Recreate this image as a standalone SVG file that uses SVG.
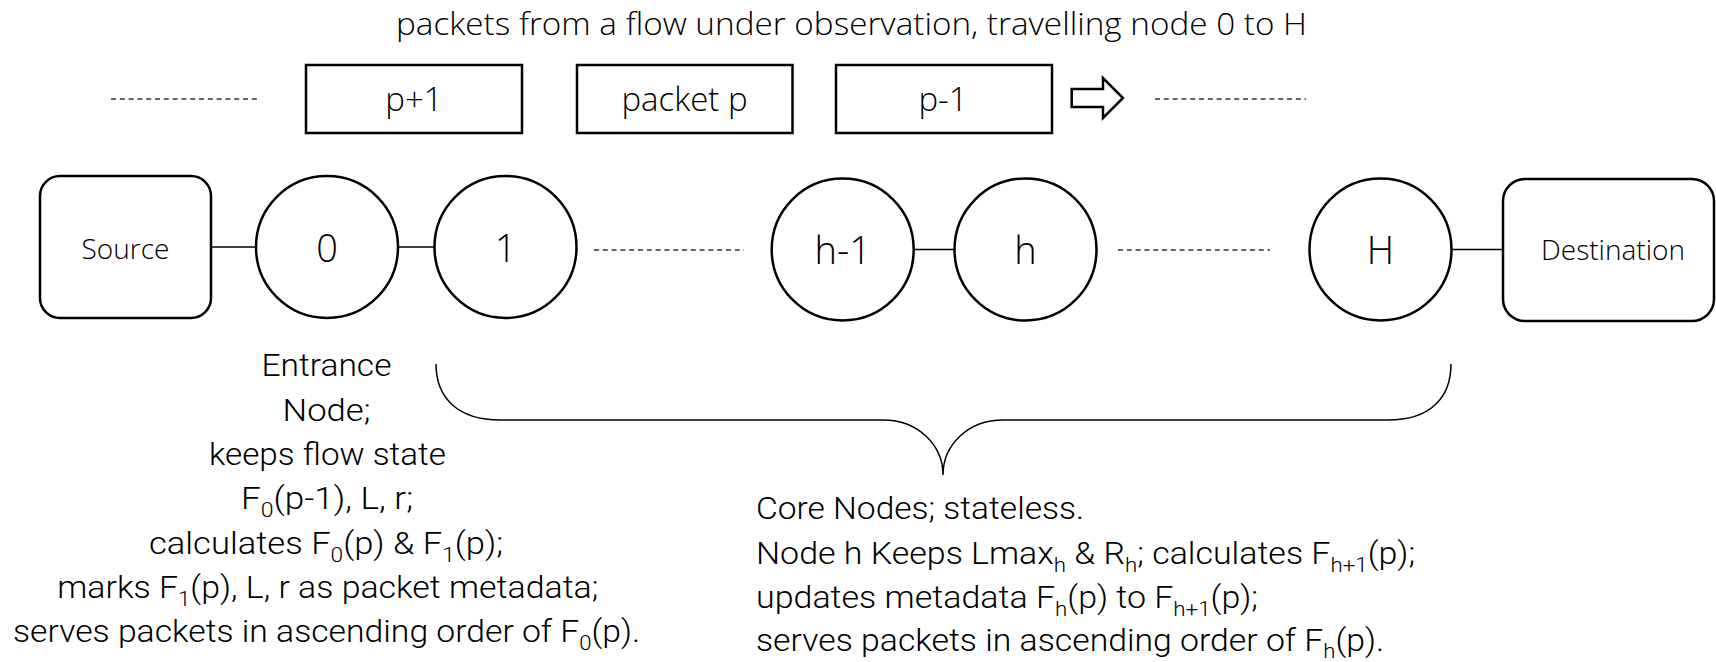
<svg xmlns="http://www.w3.org/2000/svg" width="1716" height="662" viewBox="0 0 1716 662">
<style>
  .box{fill:#fff;stroke:#000;stroke-width:2.5}
  .node{fill:#fff;stroke:#000;stroke-width:2.5}
  .link{stroke:#000;stroke-width:1.6;fill:none}
  .dash{stroke:#333;stroke-width:1.6;stroke-dasharray:5 3.8;fill:none}
  .brace{stroke:#000;stroke-width:1.5;fill:none}
  .t{font-family:"Open Sans","Noto Sans",sans-serif;font-weight:300;fill:#000}
  .b{font-family:Roboto,"Open Sans",sans-serif;font-weight:300;fill:#000;font-size:32px}
  .sub{font-size:21px}
</style>
<rect width="1716" height="662" fill="#fff"/>

<text class="t" x="851.5" y="35" font-size="31" text-anchor="middle" textLength="911" lengthAdjust="spacingAndGlyphs">packets from a flow under observation, travelling node 0 to H</text>

<g id="connectors">
  <line class="dash" x1="111" y1="99" x2="260" y2="99"/>
  <line class="dash" x1="1155" y1="99" x2="1306" y2="99"/>
  <line class="link" x1="211" y1="247" x2="256" y2="247"/>
  <line class="link" x1="398" y1="247" x2="434.5" y2="247"/>
  <line class="dash" x1="594" y1="250" x2="744" y2="250"/>
  <line class="link" x1="913.7" y1="249.5" x2="954.5" y2="249.5"/>
  <line class="dash" x1="1118" y1="250" x2="1270" y2="250"/>
  <line class="link" x1="1451.5" y1="249.5" x2="1503" y2="249.5"/>
  <path class="brace" d="M 436 364 C 436 398, 458 420, 500 420 L 883 420 C 918 420, 943 445, 943 475 C 943 445, 968 420, 1003 420 L 1388 420 C 1430 420, 1451 398, 1451 364"/>
  <path d="M 1071.7 89 L 1103 89 L 1103 78 L 1123 98 L 1103 118 L 1103 107 L 1071.7 107 Z" fill="#fff" stroke="#000" stroke-width="2.5" stroke-linejoin="miter"/>
</g>

<g id="packet-p1">
  <rect class="box" x="306" y="65" width="216" height="68"/>
  <text class="t" x="414" y="111" font-size="33" text-anchor="middle">p+1</text>
</g>
<g id="packet-p">
  <rect class="box" x="577" y="65" width="215.5" height="68"/>
  <text class="t" x="684.5" y="111" font-size="33" text-anchor="middle">packet p</text>
</g>
<g id="packet-pm1">
  <rect class="box" x="836" y="65" width="216" height="68"/>
  <text class="t" x="943" y="111" font-size="33" text-anchor="middle">p-1</text>
</g>

<g id="source">
  <rect class="box" x="40" y="176" width="171" height="142" rx="20"/>
  <text class="t" x="125.5" y="259" font-size="28" text-anchor="middle">Source</text>
</g>
<g id="node-0">
  <circle class="node" cx="327" cy="247" r="71"/>
  <text class="t" x="327" y="262" font-size="38" text-anchor="middle">0</text>
</g>
<g id="node-1">
  <circle class="node" cx="505.5" cy="247" r="71"/>
  <text class="t" x="505.5" y="262" font-size="38" text-anchor="middle">1</text>
</g>
<g id="node-hm1">
  <circle class="node" cx="842.7" cy="249.5" r="71"/>
  <text class="t" x="842.7" y="264" font-size="38" text-anchor="middle">h-1</text>
</g>
<g id="node-h">
  <circle class="node" cx="1025.5" cy="249.5" r="71"/>
  <text class="t" x="1025.5" y="264" font-size="38" text-anchor="middle">h</text>
</g>
<g id="node-H">
  <circle class="node" cx="1380.5" cy="249.5" r="71"/>
  <text class="t" x="1380.5" y="264" font-size="38" text-anchor="middle">H</text>
</g>
<g id="destination">
  <rect class="box" x="1503" y="179" width="211" height="142" rx="22"/>
  <text class="t" x="1613" y="260" font-size="28" text-anchor="middle">Destination</text>
</g>

<g id="entrance-label">
  <text class="b" x="326.5" y="376" text-anchor="middle" textLength="130" lengthAdjust="spacingAndGlyphs">Entrance</text>
  <text class="b" x="326.5" y="420.5" text-anchor="middle" textLength="88" lengthAdjust="spacingAndGlyphs">Node;</text>
  <text class="b" x="327.5" y="465" text-anchor="middle" textLength="237" lengthAdjust="spacingAndGlyphs">keeps flow state</text>
  <text class="b" x="327" y="509" text-anchor="middle" textLength="172" lengthAdjust="spacingAndGlyphs">F<tspan class="sub" dy="8">0</tspan><tspan dy="-8">(p-1), L, r;</tspan></text>
  <text class="b" x="326" y="553.5" text-anchor="middle" textLength="354" lengthAdjust="spacingAndGlyphs">calculates F<tspan class="sub" dy="8">0</tspan><tspan dy="-8">(p) &amp; F</tspan><tspan class="sub" dy="8">1</tspan><tspan dy="-8">(p);</tspan></text>
  <text class="b" x="327.8" y="598" text-anchor="middle" textLength="541" lengthAdjust="spacingAndGlyphs">marks F<tspan class="sub" dy="8">1</tspan><tspan dy="-8">(p), L, r as packet metadata;</tspan></text>
  <text class="b" x="326.5" y="642" text-anchor="middle" textLength="627" lengthAdjust="spacingAndGlyphs">serves packets in ascending order of F<tspan class="sub" dy="8">0</tspan><tspan dy="-8">(p).</tspan></text>
</g>

<g id="core-label">
  <text class="b" x="756" y="519" textLength="328" lengthAdjust="spacingAndGlyphs">Core Nodes; stateless.</text>
  <text class="b" x="756" y="563.5" textLength="659" lengthAdjust="spacingAndGlyphs">Node h Keeps Lmax<tspan class="sub" dy="8">h</tspan><tspan dy="-8"> &amp; R</tspan><tspan class="sub" dy="8">h</tspan><tspan dy="-8">; calculates F</tspan><tspan class="sub" dy="8">h+1</tspan><tspan dy="-8">(p);</tspan></text>
  <text class="b" x="756" y="608" textLength="502" lengthAdjust="spacingAndGlyphs">updates metadata F<tspan class="sub" dy="8">h</tspan><tspan dy="-8">(p) to F</tspan><tspan class="sub" dy="8">h+1</tspan><tspan dy="-8">(p);</tspan></text>
  <text class="b" x="756" y="650.5" textLength="628" lengthAdjust="spacingAndGlyphs">serves packets in ascending order of F<tspan class="sub" dy="7">h</tspan><tspan dy="-7">(p).</tspan></text>
</g>
</svg>
